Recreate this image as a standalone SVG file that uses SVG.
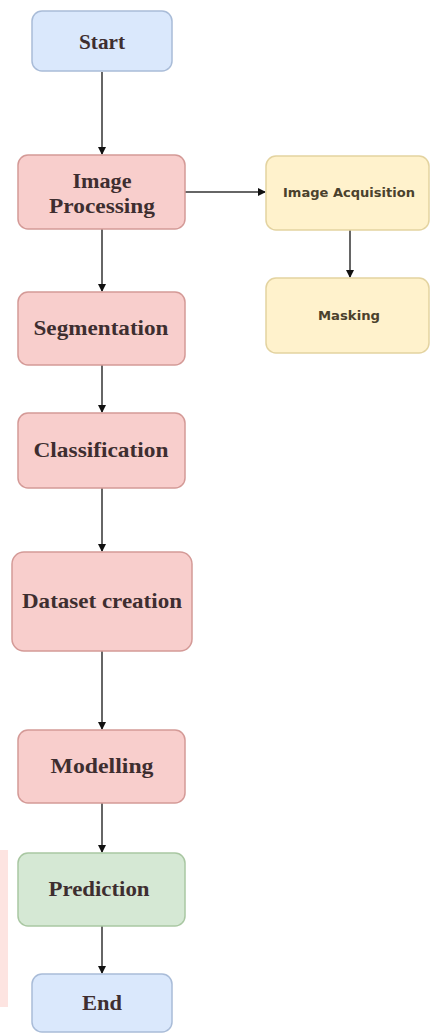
<svg xmlns="http://www.w3.org/2000/svg" width="430" height="1034" viewBox="0 0 430 1034">
<defs>
<style>
.blue{fill:#dae8fc;stroke:#a9bcd8;stroke-width:1.5}
.red{fill:#f8cecc;stroke:#d49a97;stroke-width:1.5}
.yel{fill:#fff2cc;stroke:#e3d3a0;stroke-width:1.5}
.grn{fill:#d5e8d4;stroke:#a9c7a2;stroke-width:1.5}
.t{font-family:"Liberation Serif","Times New Roman",serif;font-weight:bold;font-size:21px;text-anchor:middle;fill:#3e2e30}
.s{font-family:"DejaVu Sans","Liberation Sans",sans-serif;font-weight:bold;font-size:12.5px;text-anchor:middle;fill:#4a412c}
.c{stroke:#666;stroke-width:2;fill:none;marker-end:url(#ah)}
</style>
<marker id="ah" markerWidth="8" markerHeight="8" refX="7" refY="4" orient="auto" markerUnits="userSpaceOnUse">
<path d="M0,0 L8,4 L0,8 Z" fill="#111"/>
</marker>
</defs>
<rect width="430" height="1034" fill="#ffffff"/>
<rect x="0" y="850" width="8" height="157" fill="#fde4e1"/>
<g id="connectors">
<path class="c" d="M102,72 L102,154"/>
<path class="c" d="M185,192 L265,192"/>
<path class="c" d="M350,230 L350,277"/>
<path class="c" d="M102,229 L102,291"/>
<path class="c" d="M102,365 L102,412"/>
<path class="c" d="M102,488 L102,551"/>
<path class="c" d="M102,651 L102,729"/>
<path class="c" d="M102,803 L102,852"/>
<path class="c" d="M102,926 L102,973"/>
</g>
<g id="start"><rect class="blue" x="32" y="11" width="140" height="60" rx="10"/><text class="t" x="102" y="49" textLength="46" lengthAdjust="spacingAndGlyphs">Start</text></g>
<g id="image-processing"><rect class="red" x="18" y="155" width="167" height="74" rx="10"/><text class="t" x="102" y="188" textLength="59" lengthAdjust="spacingAndGlyphs">Image</text><text class="t" x="102" y="213" textLength="106" lengthAdjust="spacingAndGlyphs">Processing</text></g>
<g id="image-acquisition"><rect class="yel" x="266" y="156" width="163" height="74" rx="10"/><text class="s" x="349" y="197" textLength="132" lengthAdjust="spacingAndGlyphs">Image Acquisition</text></g>
<g id="masking"><rect class="yel" x="266" y="278" width="163" height="75" rx="10"/><text class="s" x="349" y="320" textLength="62" lengthAdjust="spacingAndGlyphs">Masking</text></g>
<g id="segmentation"><rect class="red" x="18" y="292" width="167" height="73" rx="10"/><text class="t" x="101" y="335" textLength="135" lengthAdjust="spacingAndGlyphs">Segmentation</text></g>
<g id="classification"><rect class="red" x="18" y="413" width="167" height="75" rx="10"/><text class="t" x="101" y="457" textLength="135" lengthAdjust="spacingAndGlyphs">Classification</text></g>
<g id="dataset-creation"><rect class="red" x="12" y="552" width="180" height="99" rx="12"/><text class="t" x="102" y="608" textLength="160" lengthAdjust="spacingAndGlyphs">Dataset creation</text></g>
<g id="modelling"><rect class="red" x="18" y="730" width="167" height="73" rx="10"/><text class="t" x="102" y="773" textLength="103" lengthAdjust="spacingAndGlyphs">Modelling</text></g>
<g id="prediction"><rect class="grn" x="18" y="853" width="167" height="73" rx="10"/><text class="t" x="99" y="896" textLength="101" lengthAdjust="spacingAndGlyphs">Prediction</text></g>
<g id="end"><rect class="blue" x="32" y="974" width="140" height="58" rx="10"/><text class="t" x="102" y="1010" textLength="40" lengthAdjust="spacingAndGlyphs">End</text></g>
</svg>
